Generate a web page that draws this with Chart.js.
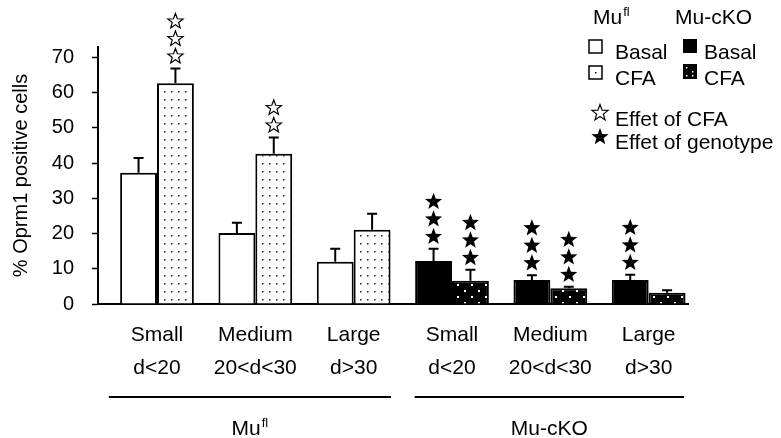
<!DOCTYPE html>
<html>
<head>
<meta charset="utf-8">
<script src="https://cdn.jsdelivr.net/npm/chart.js@4.4.0/dist/chart.umd.min.js"></script>
<style>
  html, body { margin: 0; padding: 0; background: #fff; }
</style>
</head>
<body>
<canvas id="chart" width="781" height="438"></canvas>
<script>
// ---- Data ----
const categories = [
  ['Small', 'd<20'], ['Medium', '20<d<30'], ['Large', 'd>30'],
  ['Small', 'd<20'], ['Medium', '20<d<30'], ['Large', 'd>30']
];
const basalValues = [37.3, 20.2, 12.0, 12.2, 6.8, 6.8];
const basalErrors = [4.2, 2.9, 3.7, 3.5, 1.4, 1.5];
const cfaValues = [62.7, 42.7, 21.1, 6.6, 4.5, 3.2];
const cfaErrors = [4.2, 4.6, 4.5, 3.1, 0.4, 0.7];
// number of significance stars above each bar
const basalStars = [0, 0, 0, 3, 3, 3];
const cfaStars = [3, 2, 0, 3, 3, 0];
// open star = effect of CFA, filled star = effect of genotype
const starKinds = ['open', 'open', 'open', 'filled', 'filled', 'filled'];
const genotypes = ['Mufl', 'Mu-cKO'];
const yTickValues = [0, 10, 20, 30, 40, 50, 60, 70];

const FONT = '"Liberation Sans", Arial, sans-serif';

const canvas = document.getElementById('chart');
const ctx = canvas.getContext('2d');

// dotted fills
function dotPattern(bg, fg, w, h, dots, size) {
  const c = document.createElement('canvas');
  c.width = w; c.height = h;
  const g = c.getContext('2d');
  g.fillStyle = bg;
  g.fillRect(0, 0, w, h);
  g.fillStyle = fg;
  dots.forEach(([x, y]) => g.fillRect(x, y, size, size));
  return ctx.createPattern(c, 'repeat');
}
const whiteDots = dotPattern('#fff', '#222', 7, 8, [[3, 3]], 1.5);
const blackDots = dotPattern('#000', '#fff', 14, 12, [[2, 2], [9, 8]], 2);

const basalColors = categories.map((c, i) => i < 3 ? '#fff' : '#000');
const cfaColors = categories.map((c, i) => i < 3 ? whiteDots : blackDots);

function drawStar(g, cx, cy, R, filled) {
  const r = R * 0.42;
  g.beginPath();
  for (let i = 0; i < 10; i++) {
    const a = -Math.PI / 2 + i * Math.PI / 5;
    const rad = i % 2 ? r : R;
    g.lineTo(cx + rad * Math.cos(a), cy + rad * Math.sin(a));
  }
  g.closePath();
  if (filled) {
    g.fillStyle = '#000';
    g.fill();
  } else {
    g.lineWidth = 1.2;
    g.strokeStyle = '#000';
    g.stroke();
  }
}

// "Mu" with superscript "fl"
function drawGenotype(g, name, x, y, align) {
  const base = name === 'Mufl' ? 'Mu' : name;
  const sup = name === 'Mufl' ? 'fl' : '';
  g.font = '21px ' + FONT;
  const w1 = g.measureText(base).width;
  g.font = '13px ' + FONT;
  const w2 = sup ? g.measureText(sup).width + 1 : 0;
  const sx = align === 'center' ? x - (w1 + w2) / 2 : x;
  g.textAlign = 'left';
  g.textBaseline = 'alphabetic';
  g.fillStyle = '#000';
  g.font = '21px ' + FONT;
  g.fillText(base, sx, y);
  if (sup) {
    g.font = '13px ' + FONT;
    g.fillText(sup, sx + w1 + 1, y - 8);
  }
}

const overlay = {
  id: 'overlay',
  afterDatasetsDraw(chart) {
    const g = chart.ctx;
    const yScale = chart.scales.y;
    const vals = [basalValues, cfaValues];
    const errs = [basalErrors, cfaErrors];
    const stars = [basalStars, cfaStars];
    chart.data.datasets.forEach((ds, d) => {
      chart.getDatasetMeta(d).data.forEach((bar, i) => {
        const top = yScale.getPixelForValue(vals[d][i] + errs[d][i]);
        g.save();
        g.strokeStyle = '#000';
        g.lineWidth = 2;
        g.beginPath();
        g.moveTo(bar.x, bar.y);
        g.lineTo(bar.x, top);
        g.moveTo(bar.x - 5, top);
        g.lineTo(bar.x + 5, top);
        g.stroke();
        const filled = starKinds[i] === 'filled';
        for (let k = 0; k < stars[d][i]; k++) {
          drawStar(g, bar.x, top - 12 - k * 17.5, filled ? 9 : 8, filled);
        }
        g.restore();
      });
    });
  },
  afterDraw(chart) {
    const g = chart.ctx;
    const x = chart.scales.x;
    g.save();
    // genotype brackets under the axis
    const spans = [[-0.49, 2.38], [2.62, 5.36]];
    g.strokeStyle = '#000';
    g.lineWidth = 2;
    spans.forEach((s, j) => {
      const x0 = x.getPixelForValue(s[0]);
      const x1 = x.getPixelForValue(s[1]);
      g.beginPath();
      g.moveTo(x0, 397);
      g.lineTo(x1, 397);
      g.stroke();
      drawGenotype(g, genotypes[j], (x0 + x1) / 2, 435, 'center');
    });

    // legend
    drawGenotype(g, 'Mufl', 593, 24, 'left');
    drawGenotype(g, 'Mu-cKO', 675, 24, 'left');
    g.lineWidth = 1.5;
    g.strokeStyle = '#000';
    g.fillStyle = '#fff';
    g.fillRect(589, 40, 13, 13);
    g.strokeRect(589, 40, 13, 13);
    g.fillRect(589, 66, 13, 13);
    g.strokeRect(589, 66, 13, 13);
    g.fillStyle = '#000';
    g.fillRect(595, 72, 1.5, 1.5);
    g.fillRect(683, 39, 14, 14);
    g.fillRect(683, 64, 14, 15);
    g.fillStyle = '#fff';
    [[686, 67], [692, 71], [686, 75], [692, 75]].forEach(([a, b]) => g.fillRect(a, b, 1.5, 1.5));
    g.fillStyle = '#000';
    g.font = '21px ' + FONT;
    g.textAlign = 'left';
    g.textBaseline = 'alphabetic';
    g.fillText('Basal', 615, 59);
    g.fillText('CFA', 615, 85);
    g.fillText('Basal', 704, 59);
    g.fillText('CFA', 704, 85);
    drawStar(g, 600, 113, 8.5, false);
    drawStar(g, 600, 137, 9, true);
    g.fillStyle = '#000';
    g.fillText('Effet of CFA', 615, 126);
    g.fillText('Effet of genotype', 615, 149);
    g.restore();
  }
};

new Chart(ctx, {
  type: 'bar',
  data: {
    datasets: [
      {
        label: 'Basal',
        data: basalValues.map((v, i) => ({ x: i, y: v })),
        backgroundColor: basalColors,
        borderColor: '#000',
        borderWidth: 2
      },
      {
        label: 'CFA',
        data: cfaValues.map((v, i) => ({ x: i, y: v })),
        backgroundColor: cfaColors,
        borderColor: '#000',
        borderWidth: 2
      }
    ]
  },
  options: {
    responsive: false,
    animation: false,
    devicePixelRatio: 1,
    layout: { padding: { left: 0, top: 47, right: 93, bottom: 0 } },
    datasets: { bar: { categoryPercentage: 0.75, barPercentage: 1.0 } },
    plugins: { legend: { display: false }, tooltip: { enabled: false } },
    scales: {
      x: {
        type: 'linear',
        offset: false,
        min: -0.6,
        max: 5.4,
        afterFit: (s) => { s.height = 134; },
        afterBuildTicks: (s) => { s.ticks = categories.map((c, i) => ({ value: i })); },
        grid: { display: false, offset: false },
        border: { display: true, color: '#000', width: 2 },
        ticks: {
          autoSkip: false,
          maxRotation: 0,
          padding: 6,
          color: '#000',
          font: { family: FONT, size: 21, lineHeight: 1.6 },
          callback: (v) => categories[Math.round(v)]
        }
      },
      y: {
        min: 0,
        max: 73,
        afterFit: (s) => { s.width = 98; },
        afterBuildTicks: (s) => { s.ticks = yTickValues.map(v => ({ value: v })); },
        grid: { drawOnChartArea: false, drawTicks: true, tickLength: 6, color: '#000', tickWidth: 1.5 },
        border: { display: true, color: '#000', width: 2 },
        ticks: {
          padding: 18,
          color: '#000',
          font: { family: FONT, size: 20 }
        },
        title: {
          display: true,
          text: '% Oprm1 positive cells',
          color: '#000',
          padding: { top: 9, bottom: 0 },
          font: { family: FONT, size: 20 }
        }
      }
    }
  },
  plugins: [overlay]
});
</script>
</body>
</html>
